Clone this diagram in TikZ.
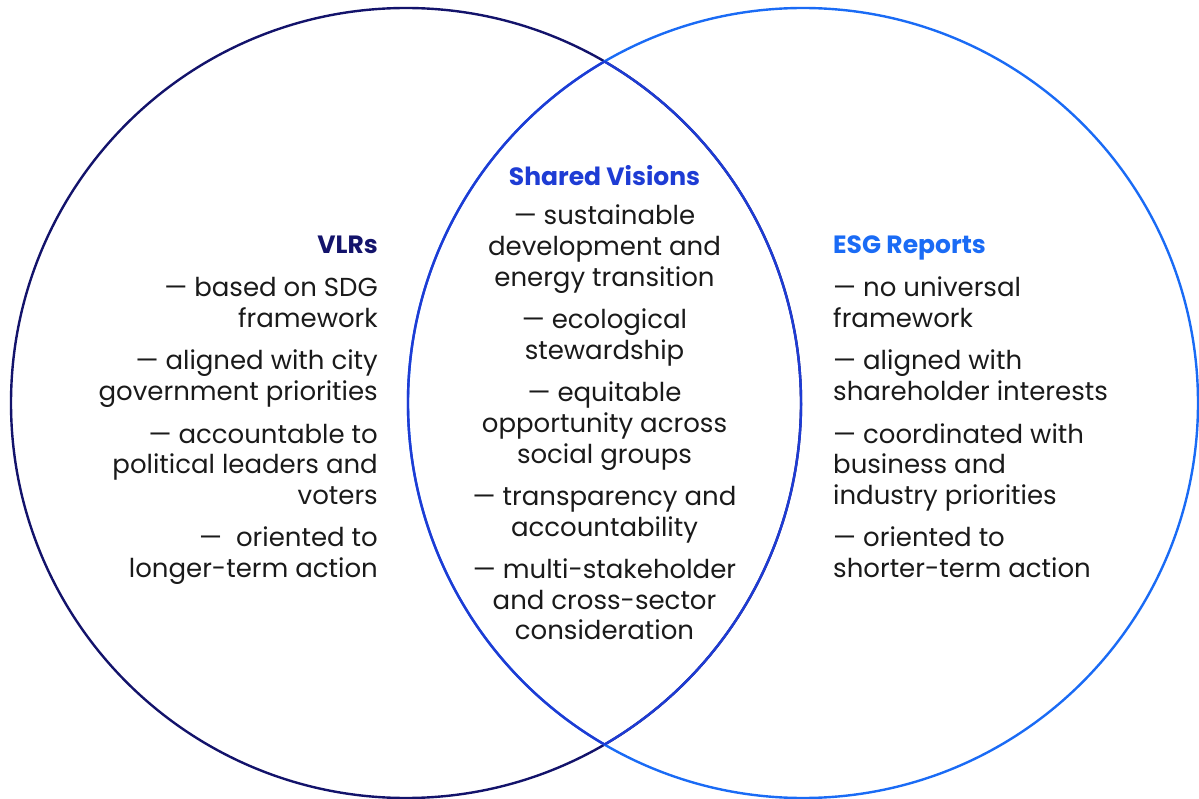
\documentclass[tikz,border=0pt]{standalone}
\usepackage{fontspec}
\setmainfont{Poppins}
\definecolor{navy}{HTML}{13136B}
\definecolor{skyblue}{HTML}{1A6BF5}
\definecolor{midblue}{HTML}{1E3CD4}
\definecolor{ink}{HTML}{1A1A1A}
\tikzset{
  ring/.style={line width=2.4pt},
  line/.style={inner sep=0pt, text=ink, font=\fontsize{26}{30}\selectfont},
  head/.style={inner sep=0pt, font=\fontsize{25}{30}\selectfont\bfseries},
}

\begin{document}
\begin{tikzpicture}[x=1pt, y=-1pt]
  \useasboundingbox (0, 0) rectangle (1199, 799);

  % the two circles
  \draw[ring, navy] (406, 403) circle (395);
  \draw[ring, skyblue] (803, 403) circle (395);

  % arcs of the overlap
  \draw[ring, midblue] (406, 403) ++(-59.83:395) arc (-59.83:59.83:395);
  \draw[ring, midblue] (803, 403) ++(120.17:395) arc (120.17:239.83:395);

  % VLRs
  \node[head, navy, anchor=base east] (vlr) at (378, 254) {VLRs};
  \foreach \y/\txt [count=\i] in {297/{— based on SDG}, 327.7/framework,
      370/{— aligned with city}, 400.7/{government priorities},
      443/{— accountable to}, 473.7/{political leaders and}, 504.4/voters,
      546.7/{— \ oriented to}, 577.4/{longer-term action}}
    \node[line, anchor=base east] (vlr-\i) at (378, \y) {\txt};

  % Shared Visions
  \node[head, midblue, anchor=base] (shared) at (604.5, 185.5) {Shared Visions};
  \foreach \y/\txt [count=\i] in {225/{— sustainable}, 255.7/{development and},
      286.4/{energy transition}, 328.7/{— ecological}, 359.4/stewardship,
      401.7/{— equitable}, 432.4/{opportunity across}, 463.1/{social groups},
      505.4/{— transparency and}, 536.1/accountability,
      578.4/{— multi-stakeholder}, 609.1/{and cross-sector}, 639.8/consideration}
    \node[line, anchor=base] (shared-\i) at (604.5, \y) {\txt};

  % ESG Reports
  \node[head, skyblue, anchor=base west] (esg) at (833, 254) {ESG Reports};
  \foreach \y/\txt [count=\i] in {297/{— no universal}, 327.7/framework,
      370/{— aligned with}, 400.7/{shareholder interests},
      443/{— coordinated with}, 473.7/{business and}, 504.4/{industry priorities},
      546.7/{— oriented to}, 577.4/{shorter-term action}}
    \node[line, anchor=base west] (esg-\i) at (833, \y) {\txt};
\end{tikzpicture}
\end{document}
